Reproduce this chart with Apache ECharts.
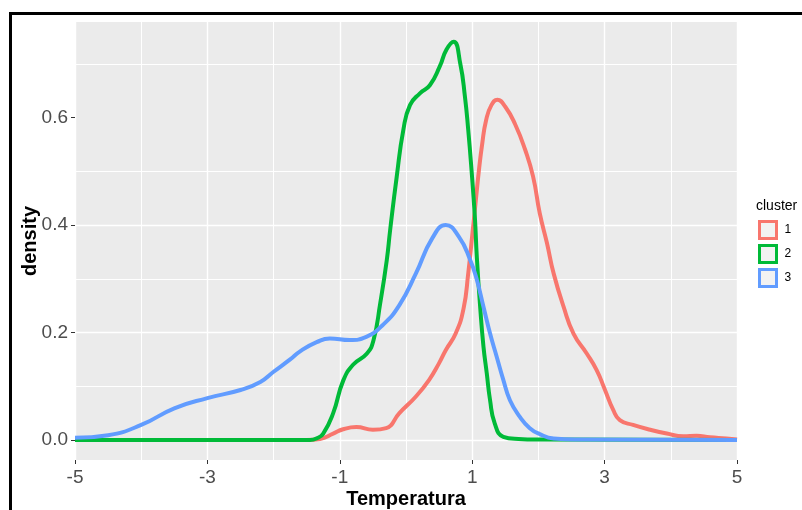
<!DOCTYPE html>
<html>
<head>
<meta charset="utf-8">
<script src="https://cdn.jsdelivr.net/npm/echarts@6/dist/echarts.min.js"></script>
<style>
  html, body { margin: 0; padding: 0; background: #fff; }
  #densityChart { position: absolute; left: 0; top: 0; width: 802px; height: 510px; }
  #frame { position: absolute; left: 9px; top: 12px; width: 900px; height: 600px;
    border-left: 3px solid #000; border-top: 3px solid #000; pointer-events: none; }
</style>
</head>
<body>
<div id="densityChart"></div>
<div id="frame"></div>
<script>
  // density curves, one pair of arrays per cluster
  var clusters = ['1', '2', '3']
  var clusterColors = ['#F8766D', '#00BA38', '#619CFF']

  var tempC1 = [-5, -1.5, -1.3, -1.1, -0.95, -0.75, -0.5, -0.3, -0.1, 0.15, 0.35, 0.5, 0.6, 0.75, 0.87,
    0.94, 1.0, 1.05, 1.1, 1.15, 1.21, 1.29, 1.38, 1.5, 1.65, 1.8, 1.92, 2.02, 2.13, 2.23,
    2.38, 2.53, 2.73, 2.88, 3.0, 3.13, 3.23, 3.43, 3.69, 3.94, 4.19, 4.39, 4.59, 4.84, 5]
  var densC1 = [0, 0, 0.002, 0.012, 0.020, 0.024, 0.019, 0.022, 0.05, 0.081, 0.112, 0.143, 0.167, 0.198, 0.245,
    0.31, 0.38, 0.44, 0.50, 0.55, 0.595, 0.623, 0.633, 0.62, 0.587, 0.54, 0.49, 0.422, 0.366, 0.31,
    0.248, 0.198, 0.161, 0.130, 0.095, 0.056, 0.037, 0.028, 0.019, 0.012, 0.007, 0.008, 0.005, 0.003, 0.001]

  var tempC2 = [-5, -1.45, -1.35, -1.25, -1.1, -0.95, -0.8, -0.59, -0.49, -0.39, -0.29, -0.24, -0.14, -0.04, 0.06,
    0.21, 0.36, 0.51, 0.61, 0.72, 0.82, 0.89, 0.94, 0.99, 1.04, 1.07, 1.12, 1.17, 1.22, 1.27,
    1.34, 1.47, 1.7, 2.0, 5]
  var densC2 = [0, 0, 0.003, 0.012, 0.05, 0.11, 0.14, 0.161, 0.186, 0.254, 0.335, 0.39, 0.49, 0.577, 0.623,
    0.645, 0.66, 0.695, 0.726, 0.741, 0.70, 0.639, 0.577, 0.502, 0.415, 0.34, 0.248, 0.174, 0.124, 0.074,
    0.031, 0.006, 0.002, 0.001, 0]

  var tempC3 = [-5, -4.5, -4.0, -3.5, -3.0, -2.5, -2.2, -2.0, -1.75, -1.6, -1.35, -1.15, -0.85, -0.6, -0.35,
    -0.1, 0.15, 0.4, 0.6, 0.8, 0.97, 1.07, 1.17, 1.27, 1.37, 1.47, 1.57, 1.72, 1.87, 2.02,
    2.23, 2.6, 5]
  var densC3 = [0.004, 0.009, 0.028, 0.059, 0.078, 0.093, 0.108, 0.127, 0.150, 0.165, 0.182, 0.189, 0.186, 0.192, 0.214,
    0.251, 0.31, 0.376, 0.40, 0.378, 0.335, 0.298, 0.248, 0.198, 0.155, 0.112, 0.074, 0.043, 0.022, 0.011,
    0.003, 0.001, 0]

  var xTicks = [-5, -3, -1, 1, 3, 5]
  var yTicks = [0, 0.2, 0.4, 0.6]

  var temps = [tempC1, tempC2, tempC3]
  var dens = [densC1, densC2, densC3]

  var myChart = echarts.init(document.getElementById('densityChart'))
  var font = "'Liberation Sans', Arial, sans-serif"

  var series = clusters.map(function (name, i) {
    return {
      name: name,
      type: 'line',
      xAxisIndex: 1,
      yAxisIndex: 1,
      smooth: 0.5,
      showSymbol: false,
      color: clusterColors[i],
      lineStyle: { width: 4, color: clusterColors[i] },
      data: temps[i].map(function (t, j) { return [t, dens[i][j]] })
    }
  })

  var option = {
    animation: false,
    textStyle: { fontFamily: font },
    title: {
      text: 'cluster',
      left: 756,
      top: 199,
      padding: 0,
      textStyle: { fontSize: 14, fontWeight: 'normal', color: '#000', fontFamily: font }
    },
    legend: {
      orient: 'vertical',
      left: 758,
      top: 220,
      padding: 0,
      icon: 'rect',
      itemWidth: 17,
      itemHeight: 17,
      itemGap: 4,
      textStyle: { fontSize: 12, color: '#000', padding: [0, 0, 0, 3] },
      data: clusters.map(function (c, i) {
        return { name: c, itemStyle: { color: '#F2F2F2', borderColor: clusterColors[i], borderWidth: 3 } }
      })
    },
    grid: [
      // panel (grey background, x axis)
      { left: 75, right: 65, top: 22, bottom: 50, show: true, backgroundColor: '#EBEBEB', borderWidth: 0,
        containLabel: false, outerBoundsMode: 'none' },
      // data area, y = 0 sits at the panel's 0.0 line
      { left: 75, right: 65, top: 10, bottom: 70, containLabel: false, outerBoundsMode: 'none' }
    ],
    xAxis: [
      {
        gridIndex: 0,
        type: 'value',
        min: xTicks[0],
        max: xTicks[xTicks.length - 1],
        interval: 2,
        axisLine: { show: false, onZero: false },
        axisTick: { length: 4, lineStyle: { color: '#333' } },
        axisLabel: { color: '#4D4D4D', fontSize: 19, margin: 8 },
        splitLine: { lineStyle: { color: '#fff', width: 1.4 } },
        minorTick: { show: false, splitNumber: 2 },
        minorSplitLine: { show: true, lineStyle: { color: '#fff', width: 1 } },
        name: 'Temperatura',
        nameLocation: 'middle',
        nameGap: 29,
        nameMoveOverlap: false,
        nameTextStyle: { fontSize: 20, fontWeight: 'bold', color: '#000' }
      },
      { gridIndex: 1, type: 'value', min: -5, max: 5, show: false, axisLine: { onZero: false } }
    ],
    yAxis: [
      {
        gridIndex: 0,
        type: 'value',
        min: 0,
        max: 1,
        axisLine: { show: false, onZero: false },
        axisTick: { show: false },
        axisLabel: { show: false },
        splitLine: { show: false },
        name: 'density',
        nameLocation: 'middle',
        nameGap: 35,
        nameMoveOverlap: false,
        nameTextStyle: { fontSize: 20, fontWeight: 'bold', color: '#000' }
      },
      {
        gridIndex: 1,
        type: 'value',
        min: 0,
        max: 0.8,
        interval: 0.2,
        axisLine: { show: false, onZero: false },
        axisTick: { length: 4, customValues: yTicks, lineStyle: { color: '#333' } },
        axisLabel: {
          customValues: yTicks,
          color: '#4D4D4D',
          fontSize: 19,
          margin: 7,
          formatter: function (v) { return v.toFixed(1) }
        },
        splitLine: { showMaxLine: false, lineStyle: { color: '#fff', width: 1.4 } },
        minorTick: { show: false, splitNumber: 2 },
        minorSplitLine: { show: true, lineStyle: { color: '#fff', width: 1 } }
      }
    ],
    series: series
  }
  myChart.setOption(option)
</script>
</body>
</html>
